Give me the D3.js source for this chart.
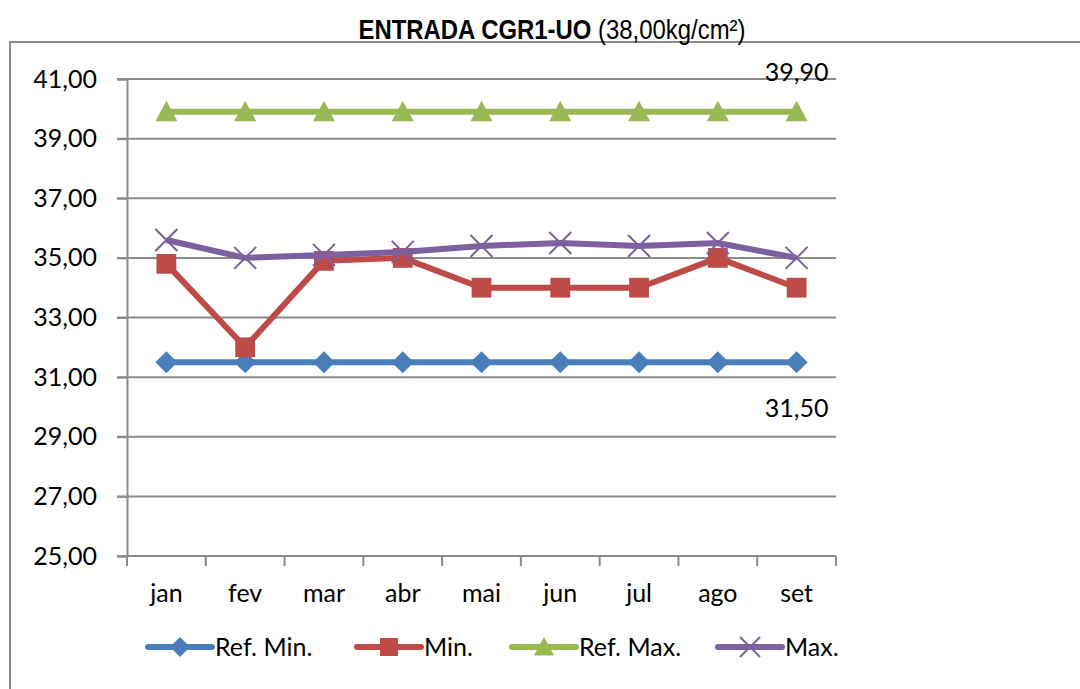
<!DOCTYPE html>
<html>
<head>
<meta charset="utf-8">
<script src="https://cdn.jsdelivr.net/npm/d3@7"></script>
<style>
  body { margin: 0; background: #fff; }
  svg { display: block; }
  text { font-family: Lato, "Open Sans", sans-serif; fill: #000; }
</style>
</head>
<body>
<div id="chart"></div>
<script>
const months = ['jan', 'fev', 'mar', 'abr', 'mai', 'jun', 'jul', 'ago', 'set'];
const refMin = [31.5, 31.5, 31.5, 31.5, 31.5, 31.5, 31.5, 31.5, 31.5];
const minVals = [34.8, 32.0, 34.9, 35.0, 34.0, 34.0, 34.0, 35.0, 34.0];
const refMax = [39.9, 39.9, 39.9, 39.9, 39.9, 39.9, 39.9, 39.9, 39.9];
const maxVals = [35.6, 35.0, 35.1, 35.2, 35.4, 35.5, 35.4, 35.5, 35.0];
const yTicks = [25, 27, 29, 31, 33, 35, 37, 39, 41];
const seriesNames = ['Ref. Min.', 'Min.', 'Ref. Max.', 'Max.'];

const W = 1080, H = 689;
const fmt = v => v.toFixed(2).replace('.', ',');

const series = [
  { name: seriesNames[0], values: refMin, color: '#4a7ebb', marker: 'diamond' },
  { name: seriesNames[1], values: minVals, color: '#be4b48', marker: 'square' },
  { name: seriesNames[2], values: refMax, color: '#98b954', marker: 'triangle' },
  { name: seriesNames[3], values: maxVals, color: '#7d60a0', marker: 'cross' }
];

const svg = d3.select('#chart').append('svg')
  .attr('width', W).attr('height', H);

// outer chart border (runs off the right/bottom edges)
svg.append('rect')
  .attr('x', 10).attr('y', 42)
  .attr('width', 1100).attr('height', 700)
  .attr('fill', 'none').attr('stroke', '#8c8c8c').attr('stroke-width', 2);

// title - narrow font, squeeze Liberation Sans to the same width
const titleG = svg.append('g');
const title = titleG.append('text')
  .attr('x', 0).attr('y', 0)
  .attr('text-anchor', 'middle')
  .style('font-family', '"Liberation Sans Narrow", "Liberation Sans", sans-serif')
  .style('font-size', '27px');
title.append('tspan').attr('font-weight', 'bold').text('ENTRADA CGR1-UO ');
title.append('tspan').text('(38,00kg/cm²)');
const tw = title.node().getComputedTextLength();
titleG.attr('transform', `translate(552,39) scale(${387 / tw},1)`);

const x = d3.scaleBand().domain(months).range([127, 836]);
const y = d3.scaleLinear().domain([25, 41]).range([556, 79]);
const cx = m => x(m) + x.bandwidth() / 2;

// gridlines
svg.append('g').selectAll('line')
  .data(yTicks.slice(1))
  .join('line')
  .attr('x1', 117).attr('x2', 836)
  .attr('y1', d => y(d)).attr('y2', d => y(d))
  .attr('stroke', '#8c8c8c').attr('stroke-width', 2);

// y axis
const yAxis = svg.append('g')
  .attr('transform', 'translate(127,0)')
  .call(d3.axisLeft(y).tickValues(yTicks).tickFormat(fmt).tickSize(10).tickPadding(20));
yAxis.select('.domain').attr('stroke', '#8c8c8c').attr('stroke-width', 2);
yAxis.selectAll('.tick line').attr('stroke', '#8c8c8c').attr('stroke-width', 2);
yAxis.selectAll('.tick text')
  .style('font-family', 'Lato, sans-serif').style('font-size', '25px').attr('fill', '#000');

// x axis
const xAxis = svg.append('g')
  .attr('transform', 'translate(0,556)')
  .call(d3.axisBottom(x).tickSize(0).tickPadding(28));
xAxis.select('.domain').attr('d', 'M117,0H836').attr('stroke', '#8c8c8c').attr('stroke-width', 2);
xAxis.selectAll('.tick text')
  .style('font-family', 'Lato, sans-serif').style('font-size', '25px').attr('fill', '#000');
xAxis.append('g').selectAll('line')
  .data(months.map(m => x(m)).concat([x(months[months.length - 1]) + x.bandwidth()]))
  .join('line')
  .attr('x1', d => d).attr('x2', d => d)
  .attr('y1', 0).attr('y2', 10)
  .attr('stroke', '#8c8c8c').attr('stroke-width', 2);

function markerPath(type, s) {
  if (type === 'diamond') return `M0,${-s}L${s},0L0,${s}L${-s},0Z`;
  if (type === 'square') return `M${-s * 0.9},${-s * 0.9}H${s * 0.9}V${s * 0.9}H${-s * 0.9}Z`;
  if (type === 'triangle') return `M0,${-s}L${s},${s * 0.85}L${-s},${s * 0.85}Z`;
  return `M${-s},${-s}L${s},${s}M${s},${-s}L${-s},${s}`;
}

function drawMarker(g, type, color, px, py, s) {
  const p = g.append('path')
    .attr('transform', `translate(${px},${py})`)
    .attr('d', markerPath(type, s));
  if (type === 'cross') p.attr('fill', 'none').attr('stroke', color).attr('stroke-width', 2);
  else p.attr('fill', color);
}

const line = d3.line().x((d, i) => cx(months[i])).y(d => y(d));

series.forEach(s => {
  const g = svg.append('g');
  g.append('path')
    .datum(s.values)
    .attr('d', line)
    .attr('fill', 'none')
    .attr('stroke', s.color)
    .attr('stroke-width', 6)
    .attr('stroke-linejoin', 'round');
  s.values.forEach((v, i) => drawMarker(g, s.marker, s.color, cx(months[i]), y(v), 11));
});

// data labels for last reference points
const last = months[months.length - 1];
svg.append('text')
  .attr('x', cx(last)).attr('y', y(refMax[refMax.length - 1]) - 31)
  .attr('text-anchor', 'middle')
  .style('font-size', '25px')
  .text(fmt(refMax[refMax.length - 1]));
svg.append('text')
  .attr('x', cx(last)).attr('y', y(refMin[refMin.length - 1]) + 55)
  .attr('text-anchor', 'middle')
  .style('font-size', '25px')
  .text(fmt(refMin[refMin.length - 1]));

// legend
const legendX = [148, 357, 512, 718];
const legend = svg.append('g');
series.forEach((s, i) => {
  const lx = legendX[i], ly = 647;
  legend.append('line')
    .attr('x1', lx).attr('x2', lx + 64)
    .attr('y1', ly).attr('y2', ly)
    .attr('stroke', s.color).attr('stroke-width', 6).attr('stroke-linecap', 'round');
  drawMarker(legend, s.marker, s.color, lx + 32, ly, 10);
  legend.append('text')
    .attr('x', lx + 67).attr('y', ly + 9)
    .style('font-size', '25px')
    .text(s.name);
});
</script>
</body>
</html>
